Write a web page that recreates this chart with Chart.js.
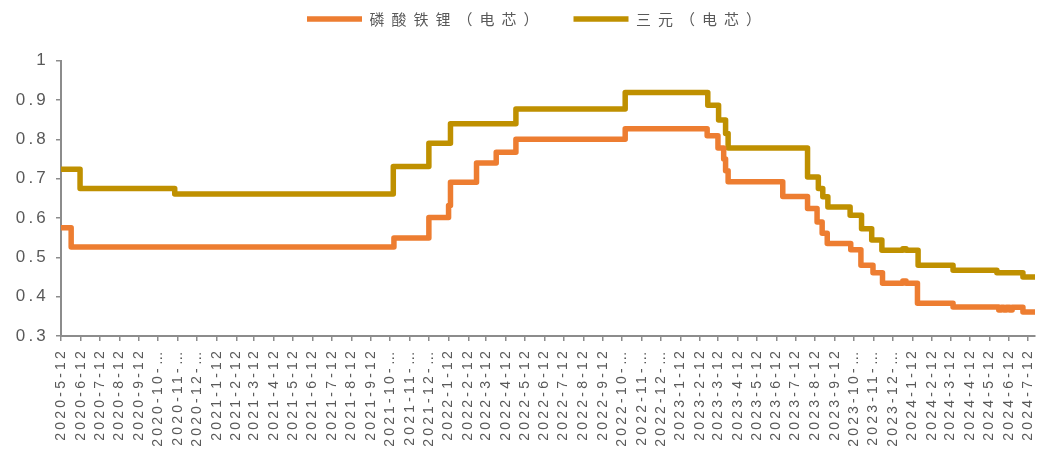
<!DOCTYPE html>
<html><head><meta charset="utf-8">
<script src="https://cdn.jsdelivr.net/npm/chart.js@4.4.1/dist/chart.umd.min.js"></script>
<style>html,body{margin:0;padding:0;background:#fff;}#wrap{width:1053px;height:450px;position:relative;}</style>
</head><body><div id="wrap"><canvas id="c"></canvas></div>
<script>
const seriesNames = ['磷酸铁锂（电芯）', '三元（电芯）'];
const seriesColors = ['#ED7D31', '#BF9000'];

const xTickDates = ['2020-5-12','2020-6-12','2020-7-12','2020-8-12','2020-9-12','2020-10-12','2020-11-12','2020-12-12',
 '2021-1-12','2021-2-12','2021-3-12','2021-4-12','2021-5-12','2021-6-12','2021-7-12','2021-8-12','2021-9-12','2021-10-12','2021-11-12','2021-12-12',
 '2022-1-12','2022-2-12','2022-3-12','2022-4-12','2022-5-12','2022-6-12','2022-7-12','2022-8-12','2022-9-12','2022-10-12','2022-11-12','2022-12-12',
 '2023-1-12','2023-2-12','2023-3-12','2023-4-12','2023-5-12','2023-6-12','2023-7-12','2023-8-12','2023-9-12','2023-10-12','2023-11-12','2023-12-12',
 '2024-1-12','2024-2-12','2024-3-12','2024-4-12','2024-5-12','2024-6-12','2024-7-12'];
const xTickLabels = ['2020-5-12','2020-6-12','2020-7-12','2020-8-12','2020-9-12','2020-10-…','2020-11-…','2020-12-…',
 '2021-1-12','2021-2-12','2021-3-12','2021-4-12','2021-5-12','2021-6-12','2021-7-12','2021-8-12','2021-9-12','2021-10-…','2021-11-…','2021-12-…',
 '2022-1-12','2022-2-12','2022-3-12','2022-4-12','2022-5-12','2022-6-12','2022-7-12','2022-8-12','2022-9-12','2022-10-…','2022-11-…','2022-12-…',
 '2023-1-12','2023-2-12','2023-3-12','2023-4-12','2023-5-12','2023-6-12','2023-7-12','2023-8-12','2023-9-12','2023-10-…','2023-11-…','2023-12-…',
 '2024-1-12','2024-2-12','2024-3-12','2024-4-12','2024-5-12','2024-6-12','2024-7-12'];
const yTickValues = [0.3, 0.4, 0.5, 0.6, 0.7, 0.8, 0.9, 1];
const yTickLabels = ['0.3','0.4','0.5','0.6','0.7','0.8','0.9','1'];

const lfpDates = ['2020-5-12','2020-5-28','2021-10-18','2021-12-12','2022-1-12','2022-1-15','2022-2-25','2022-3-28','2022-4-28',
 '2022-10-17','2023-2-23','2023-3-12','2023-3-21','2023-3-24','2023-3-28','2023-6-22','2023-7-31','2023-8-15','2023-8-23','2023-8-31',
 '2023-10-7','2023-10-23','2023-11-11','2023-11-26','2023-12-28','2024-1-2','2024-1-20','2024-3-16','2024-5-27','2024-5-31',
 '2024-6-4','2024-6-8','2024-6-13','2024-6-17','2024-7-4','2024-7-23'];
const lfpValues = [0.575,0.526,0.549,0.601,0.632,0.691,0.740,0.767,0.800,
 0.827,0.809,0.778,0.750,0.720,0.692,0.655,0.624,0.590,0.561,0.535,
 0.519,0.480,0.461,0.434,0.440,0.434,0.383,0.374,0.366,0.373,
 0.366,0.373,0.366,0.373,0.361,0.361];

const nmcDates = ['2020-5-12','2020-6-11','2020-11-7','2021-10-17','2021-12-12','2022-1-15','2022-4-28','2022-10-17',
 '2023-2-24','2023-3-13','2023-3-24','2023-3-28','2023-7-31','2023-8-17','2023-8-24','2023-9-1','2023-10-6','2023-10-24',
 '2023-11-9','2023-11-25','2023-12-28','2024-1-2','2024-1-21','2024-3-16','2024-5-24','2024-7-4','2024-7-23'];
const nmcValues = [0.724,0.675,0.661,0.731,0.790,0.840,0.877,0.919,
 0.887,0.849,0.815,0.778,0.704,0.675,0.654,0.628,0.607,0.573,
 0.544,0.518,0.522,0.518,0.480,0.467,0.461,0.450,0.450];

const T0 = Date.UTC(2020, 4, 12);
function dayOf(s) { const p = s.split('-').map(Number); return (Date.UTC(p[0], p[1] - 1, p[2]) - T0) / 86400000; }
function pts(dates, vals) { return dates.map((d, i) => ({ x: dayOf(d), y: vals[i] })); }

const AXIS = '#8C8C8C';
const TXT = '#595959';
const LEGEND_SPACING = '7px';
const AXIS_SPACING = '3.2px';

const spacingPlugin = {
  id: 'spacing',
  beforeLayout(chart) {
    const lg = chart.legend;
    if (lg && !lg._patched) {
      const f = lg.fit;
      lg.fit = function () { f.call(this); this.height += 24.2; };
      lg._patched = true;
    }
    chart.ctx.letterSpacing = LEGEND_SPACING;
  },
  afterLayout(chart) { if (chart.legend) { chart.legend.left += 40; } },
  beforeDraw(chart) { chart.ctx.letterSpacing = LEGEND_SPACING; },
  afterDatasetsDraw(chart) { chart.ctx.letterSpacing = AXIS_SPACING; },
  afterDraw(chart) { chart.ctx.letterSpacing = '0px'; }
};

new Chart(document.getElementById('c'), {
  type: 'line',
  data: {
    datasets: [
      { label: seriesNames[0], data: pts(lfpDates, lfpValues), borderColor: seriesColors[0], backgroundColor: seriesColors[0],
        borderWidth: 5.5, stepped: true, pointRadius: 0, borderJoinStyle: 'round', borderCapStyle: 'round', fill: false },
      { label: seriesNames[1], data: pts(nmcDates, nmcValues), borderColor: seriesColors[1], backgroundColor: seriesColors[1],
        borderWidth: 5.5, stepped: true, pointRadius: 0, borderJoinStyle: 'round', borderCapStyle: 'round', fill: false }
    ]
  },
  options: {
    responsive: true, maintainAspectRatio: false, animation: false,
    layout: { padding: { top: -16.5, right: 18, bottom: 0, left: 0 } },
    plugins: {
      tooltip: { enabled: false },
      legend: {
        display: true, position: 'top', align: 'center',
        labels: { usePointStyle: true, pointStyle: 'line', pointStyleWidth: 55, padding: 28, color: TXT,
          font: { family: "'Noto Sans CJK SC', sans-serif", size: 15 } }
      }
    },
    scales: {
      x: {
        type: 'linear', min: 0, max: dayOf(lfpDates[lfpDates.length - 1]),
        afterBuildTicks(scale) { scale.ticks = xTickDates.map(d => ({ value: dayOf(d) })); },
        afterFit(scale) { scale.height = 114; },
        ticks: { z: 1, autoSkip: false, minRotation: 90, maxRotation: 90, padding: 7, color: TXT,
          font: { family: "'Liberation Sans', Arial, sans-serif", size: 14 },
          callback: (v, i) => xTickLabels[i] },
        grid: { display: true, drawOnChartArea: false, drawTicks: true, tickLength: 5, color: AXIS, lineWidth: 1.5 },
        border: { display: true, color: AXIS, width: 2 }
      },
      y: {
        type: 'linear', min: 0.3, max: 1,
        afterBuildTicks(scale) { scale.ticks = yTickValues.map(v => ({ value: v })); },
        afterFit(scale) { scale.width = 61; },
        ticks: { z: 1, padding: 7, color: TXT, font: { family: "'Liberation Sans', Arial, sans-serif", size: 17 },
          callback: (v, i) => yTickLabels[i] },
        grid: { display: true, drawOnChartArea: false, drawTicks: true, tickLength: 5, color: AXIS, lineWidth: 1.5 },
        border: { display: true, color: AXIS, width: 2 }
      }
    }
  },
  plugins: [spacingPlugin]
});
</script></body></html>
